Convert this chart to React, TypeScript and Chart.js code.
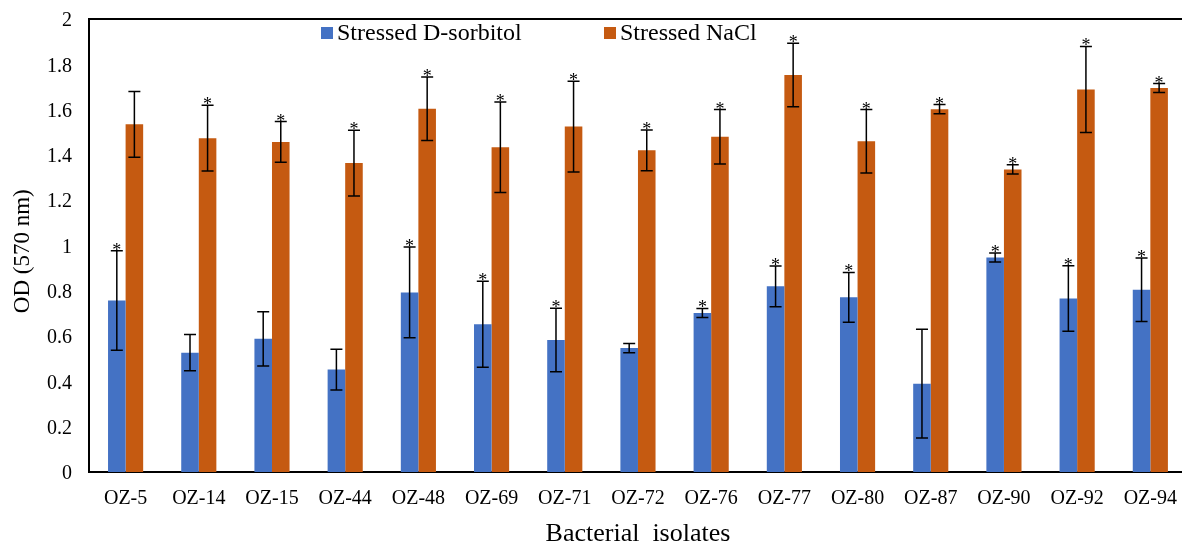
import React, { useEffect, useRef } from "react";
import { Chart, registerables } from "chart.js";

Chart.register(...registerables);

const categories = ["OZ-5", "OZ-14", "OZ-15", "OZ-44", "OZ-48", "OZ-69", "OZ-71", "OZ-72", "OZ-76", "OZ-77", "OZ-80", "OZ-87", "OZ-90", "OZ-92", "OZ-94"];
const sorbitolValues = [0.757, 0.527, 0.588, 0.452, 0.793, 0.652, 0.583, 0.547, 0.702, 0.82, 0.771, 0.39, 0.947, 0.766, 0.805];
const sorbitolErrors = [0.22, 0.08, 0.12, 0.09, 0.2, 0.19, 0.14, 0.02, 0.02, 0.09, 0.11, 0.24, 0.02, 0.145, 0.14];
const sorbitolSignificant = [true, false, false, false, true, true, true, false, true, true, true, false, true, true, true];
const naclValues = [1.535, 1.474, 1.457, 1.364, 1.604, 1.434, 1.525, 1.42, 1.48, 1.753, 1.46, 1.602, 1.336, 1.689, 1.695];
const naclErrors = [0.145, 0.145, 0.09, 0.145, 0.14, 0.2, 0.2, 0.09, 0.12, 0.14, 0.14, 0.02, 0.02, 0.19, 0.02];
const naclSignificant = [false, true, true, true, true, true, true, true, true, true, true, true, true, true, true];
const yTickLabels = ["0", "0.2", "0.4", "0.6", "0.8", "1", "1.2", "1.4", "1.6", "1.8", "2"];
const seriesNames = ["Stressed D-sorbitol", "Stressed NaCl"];
const seriesColors = ["#4472C4", "#C55A11"];

const FONT = "'Times New Roman', 'Liberation Serif', serif";

const errorBarPlugin = {
  id: "errorBars",
  afterDatasetsDraw(chart: any) {
    const ctx = chart.ctx;
    const y = chart.scales.y;
    chart.data.datasets.forEach((ds: any, di: number) => {
      const meta = chart.getDatasetMeta(di);
      meta.data.forEach((bar: any, i: number) => {
        const v = ds.data[i];
        const e = ds.errors[i];
        const yTop = y.getPixelForValue(v + e);
        const yBot = y.getPixelForValue(v - e);
        const x = bar.x;
        ctx.save();
        ctx.strokeStyle = "#000";
        ctx.lineWidth = 1.5;
        ctx.beginPath();
        ctx.moveTo(x, yTop);
        ctx.lineTo(x, yBot);
        ctx.moveTo(x - 6, yTop);
        ctx.lineTo(x + 6, yTop);
        ctx.moveTo(x - 6, yBot);
        ctx.lineTo(x + 6, yBot);
        ctx.stroke();
        if (ds.significant[i]) {
          ctx.fillStyle = "#000";
          ctx.font = `18px ${FONT}`;
          ctx.textAlign = "center";
          ctx.textBaseline = "alphabetic";
          ctx.fillText("*", x, yTop + 5);
        }
        ctx.restore();
      });
    });
  },
};

const framePlugin = {
  id: "frameAndLegend",
  afterDraw(chart: any) {
    const ctx = chart.ctx;
    const { left, right, top } = chart.chartArea;
    ctx.save();
    ctx.strokeStyle = "#000";
    ctx.lineWidth = 2;
    ctx.beginPath();
    ctx.moveTo(left - 1, top);
    ctx.lineTo(right + 10, top);
    ctx.stroke();
    const items = [
      { x: 321, label: seriesNames[0], color: seriesColors[0] },
      { x: 604, label: seriesNames[1], color: seriesColors[1] },
    ];
    ctx.font = `24px ${FONT}`;
    ctx.textAlign = "left";
    ctx.textBaseline = "middle";
    items.forEach((it) => {
      ctx.fillStyle = it.color;
      ctx.fillRect(it.x, 27, 12, 12);
      ctx.fillStyle = "#000";
      ctx.fillText(it.label, it.x + 16, 34);
    });
    ctx.restore();
  },
};

export default function App() {
  const ref = useRef<HTMLCanvasElement | null>(null);
  useEffect(() => {
    if (!ref.current) return;
    const chart = new Chart(ref.current, {
      type: "bar",
      data: {
        labels: categories,
        datasets: [
          {
            label: seriesNames[0],
            data: sorbitolValues,
            backgroundColor: seriesColors[0],
            errors: sorbitolErrors,
            significant: sorbitolSignificant,
            categoryPercentage: 0.48,
            barPercentage: 1,
          } as any,
          {
            label: seriesNames[1],
            data: naclValues,
            backgroundColor: seriesColors[1],
            errors: naclErrors,
            significant: naclSignificant,
            categoryPercentage: 0.48,
            barPercentage: 1,
          } as any,
        ],
      },
      options: {
        responsive: false,
        animation: false,
        layout: { padding: { left: 0, right: 0, top: 19, bottom: 0 } },
        plugins: { legend: { display: false }, tooltip: { enabled: false } },
        scales: {
          x: {
            grid: { display: false, drawTicks: false },
            border: { display: true, color: "#000", width: 2 },
            ticks: { color: "#000", font: { family: FONT, size: 20 }, padding: 15, maxRotation: 0, autoSkip: false },
            title: {
              display: true,
              text: "Bacterial  isolates",
              color: "#000",
              font: { family: FONT, size: 26, lineHeight: 1 },
              padding: { top: 0, bottom: -3 },
            },
            afterFit: (s: any) => {
              s.height = 72;
            },
          },
          y: {
            min: 0,
            max: 2,
            grid: { display: false, drawTicks: false },
            border: { display: true, color: "#000", width: 2 },
            ticks: {
              stepSize: 0.2,
              color: "#000",
              font: { family: FONT, size: 20, lineHeight: 0.1 },
              padding: 17,
              labelOffset: 2,
              callback: (_v: any, i: number) => yTickLabels[i],
            },
            title: {
              display: true,
              text: "OD (570 nm)\u00A0\u00A0",
              color: "#000",
              font: { family: FONT, size: 23, lineHeight: 1.2 },
              padding: { top: 9, bottom: 0 },
            },
            afterFit: (s: any) => {
              s.width = 89;
            },
          },
        },
      },
      plugins: [errorBarPlugin, framePlugin],
    });
    return () => chart.destroy();
  }, []);
  return (
    <div style={{ position: "fixed", left: 0, top: 0, width: 1182, height: 544, overflow: "hidden", background: "#fff" }}>
      <canvas ref={ref} width={1192} height={544} style={{ width: 1192, height: 544, display: "block" }} />
    </div>
  );
}
